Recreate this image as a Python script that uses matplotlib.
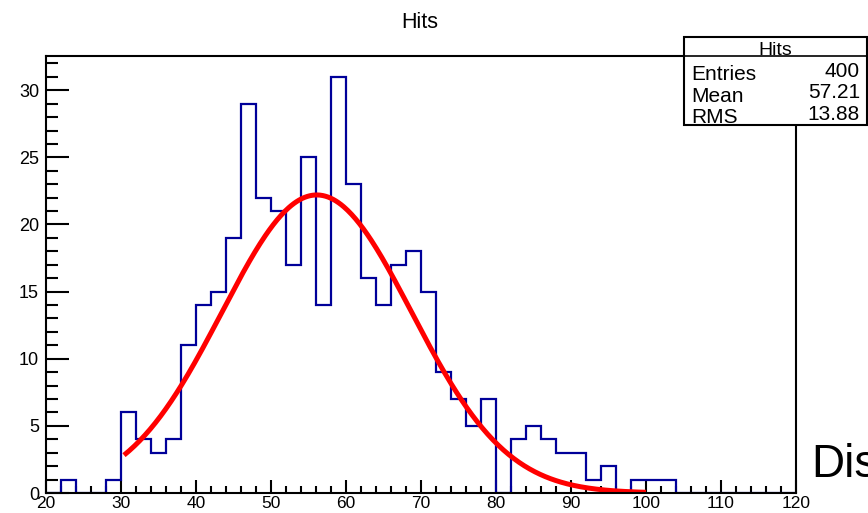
import numpy as np
import matplotlib
matplotlib.use("Agg")
import matplotlib.pyplot as plt
from matplotlib.patches import Rectangle
from matplotlib.ticker import MultipleLocator

# ---- data ----
bin_edges = np.arange(20, 122, 2)
counts = [0, 1, 0, 0, 1, 6, 4, 3, 4, 11,
          14, 15, 19, 29, 22, 21, 17, 25, 14, 31,
          23, 16, 14, 17, 18, 15, 9, 7, 5, 7,
          0, 4, 5, 4, 3, 3, 1, 2, 0, 1,
          1, 1, 0, 0, 0, 0, 0, 0, 0, 0]
fit_constant = 22.2
fit_mean = 56.1
fit_sigma = 12.65
fit_range = (30.4, 100.0)
stats_labels = ["Entries", "Mean", "RMS"]
stats_values = ["400", "57.21", "13.88"]
title = "Hits"

W, H = 868, 513
fig = plt.figure(figsize=(W / 100, H / 100), dpi=100)
plt.rcParams['font.family'] = ['Liberation Sans', 'DejaVu Sans']


def fx(x):
    return x / W


def fy(y):
    return 1 - y / H


ax = fig.add_axes([fx(46), fy(493), (796 - 46) / W, (493 - 56) / H])
ax.stairs(counts, bin_edges, color='#000099', lw=1.6, zorder=3)

xf = np.linspace(fit_range[0], fit_range[1], 400)
yf = fit_constant * np.exp(-0.5 * ((xf - fit_mean) / fit_sigma) ** 2)
ax.plot(xf, yf, color='#ff0000', lw=3.6, zorder=4, solid_capstyle='butt')

ax.set_xlim(20, 120)
ax.set_ylim(0, 32.55)
ax.xaxis.set_major_locator(MultipleLocator(10))
ax.xaxis.set_minor_locator(MultipleLocator(2))
ax.yaxis.set_major_locator(MultipleLocator(5))
ax.yaxis.set_minor_locator(MultipleLocator(1))
ax.tick_params(axis='x', which='major', direction='in', length=9.4, width=1.5,
               labelsize=12.5, pad=2.5)
ax.tick_params(axis='x', which='minor', direction='in', length=5, width=1.5)
ax.tick_params(axis='y', which='major', direction='in', length=16.5, width=1.5,
               labelsize=13, pad=5)
ax.tick_params(axis='y', which='minor', direction='in', length=8.6, width=1.5)
for s in ax.spines.values():
    s.set_linewidth(1.5)
    s.set_color('black')
    s.set_zorder(5)

fig.text(fx(420), fy(28), title, ha='center', va='baseline', fontsize=15.5)

# stats box
box = Rectangle((fx(684), fy(125)), fx(867) - fx(684), fy(37) - fy(125),
                transform=fig.transFigure, facecolor='white', edgecolor='black',
                lw=1.5, zorder=10)
fig.add_artist(box)
fig.add_artist(plt.Line2D([fx(684), fx(868)], [fy(55.5), fy(55.5)],
                          transform=fig.transFigure, color='black', lw=1.2,
                          zorder=11))
fig.text(fx(775), fy(55), title, ha='center', va='baseline', fontsize=14,
         zorder=12)
label_base = [80, 101.5, 123]
value_base = [77, 98.5, 120.5]
for lab, val, yl, yv in zip(stats_labels, stats_values, label_base, value_base):
    fig.text(fx(691), fy(yl), lab, ha='left', va='baseline', fontsize=15,
             zorder=12)
    fig.text(fx(860), fy(yv), val, ha='right', va='baseline', fontsize=15,
             zorder=12)

fig.text(fx(811), fy(477), "Dis", ha='left', va='baseline', fontsize=33)

fig.savefig("out.png", dpi=100)
